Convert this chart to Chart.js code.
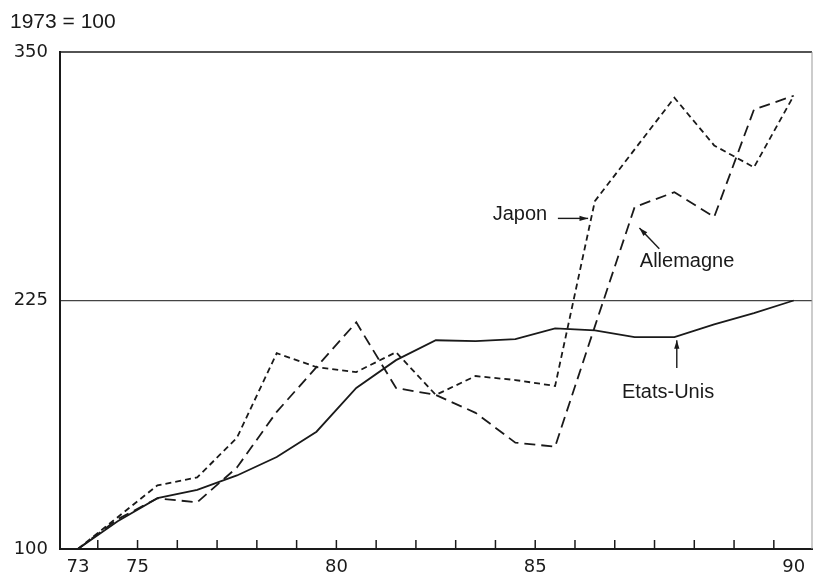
<!DOCTYPE html>
<html>
<head>
<meta charset="utf-8">
<script src="https://cdn.jsdelivr.net/npm/chart.js@4.4.0/dist/chart.umd.min.js"></script>
<style>
  html, body { margin: 0; padding: 0; background: #fff; }
</style>
</head>
<body>
<canvas id="chart" width="814" height="578"></canvas>
<script>
// one point per year, 1973 = index 0
var years = [0, 1, 2, 3, 4, 5, 6, 7, 8, 9, 10, 11, 12, 13, 14, 15, 16, 17, 18];
var japon = [100, 116, 132, 136, 156, 198.5, 191.5, 189, 199, 177.5, 187, 185, 182, 275, 301, 327, 303, 292, 328];
var allemagne = [100, 115, 125.5, 123.5, 141, 169, 191.5, 214, 181, 177.5, 168.5, 153.5, 151.5, 212, 272, 279.5, 267, 321, 328];
var etatsUnis = [100, 114, 125.6, 129.7, 137, 146.3, 159, 181, 195, 205, 204.6, 205.6, 211, 210, 206.6, 206.6, 213, 218.7, 225];

var yTicks = [100, 225, 350];
var xLabels = ['73', '75', '80', '85', '90'];
var xLabelPos = [0, 1.5, 6.5, 11.5, 18];
var xTickPos = [0.5, 1.5, 2.5, 3.5, 4.5, 5.5, 6.5, 7.5, 8.5, 9.5, 10.5, 11.5, 12.5, 13.5, 14.5, 15.5, 16.5, 17.5];

var ink = '#1a1a1a';

function points(values) {
  return values.map(function (v, i) { return { x: years[i], y: v }; });
}

// labels with their arrows, placed in data units
var notes = [
  { text: 'Japon', x: 11.8, y: 268.5, align: 'right', arrow: [12.07, 266.3, 12.83, 266.3] },
  { text: 'Allemagne', x: 14.13, y: 244.4, align: 'left', arrow: [14.62, 251, 14.12, 261.5] },
  { text: 'Etats-Unis', x: 13.68, y: 178.5, align: 'left', arrow: [15.06, 191, 15.06, 205] }
];

var extras = {
  id: 'extras',
  afterDraw: function (chart) {
    var ctx = chart.ctx;
    var xs = chart.scales.x;
    var ys = chart.scales.y;
    var a = chart.chartArea;
    ctx.save();
    // top and right frame
    ctx.strokeStyle = ink;
    ctx.lineWidth = 1.6;
    ctx.beginPath();
    ctx.moveTo(a.left, a.top);
    ctx.lineTo(a.right, a.top);
    ctx.stroke();
    ctx.strokeStyle = '#999';
    ctx.lineWidth = 1;
    ctx.beginPath();
    ctx.moveTo(a.right, a.top);
    ctx.lineTo(a.right, a.bottom);
    ctx.stroke();
    // inner tick marks on the year axis
    ctx.strokeStyle = ink;
    ctx.lineWidth = 1.5;
    xTickPos.forEach(function (p) {
      var px = xs.getPixelForValue(p);
      ctx.beginPath();
      ctx.moveTo(px, a.bottom);
      ctx.lineTo(px, a.bottom - 9);
      ctx.stroke();
    });
    // title
    ctx.fillStyle = ink;
    ctx.font = '21px "Liberation Sans", Arial, sans-serif';
    ctx.textAlign = 'left';
    ctx.textBaseline = 'alphabetic';
    ctx.fillText('1973 = 100', 10, 28);
    // notes
    ctx.font = '20px "Liberation Sans", Arial, sans-serif';
    ctx.textBaseline = 'middle';
    notes.forEach(function (n) {
      ctx.textAlign = n.align;
      ctx.fillText(n.text, xs.getPixelForValue(n.x), ys.getPixelForValue(n.y));
      var x1 = xs.getPixelForValue(n.arrow[0]), y1 = ys.getPixelForValue(n.arrow[1]);
      var x2 = xs.getPixelForValue(n.arrow[2]), y2 = ys.getPixelForValue(n.arrow[3]);
      ctx.lineWidth = 1.4;
      ctx.beginPath();
      ctx.moveTo(x1, y1);
      ctx.lineTo(x2, y2);
      ctx.stroke();
      var ang = Math.atan2(y2 - y1, x2 - x1);
      ctx.beginPath();
      ctx.moveTo(x2, y2);
      ctx.lineTo(x2 - 9 * Math.cos(ang - 0.3), y2 - 9 * Math.sin(ang - 0.3));
      ctx.lineTo(x2 - 9 * Math.cos(ang + 0.3), y2 - 9 * Math.sin(ang + 0.3));
      ctx.closePath();
      ctx.fill();
    });
    ctx.restore();
  }
};

var lineStyle = { borderColor: ink, borderWidth: 1.8, pointRadius: 0, tension: 0, fill: false };

new Chart(document.getElementById('chart'), {
  type: 'line',
  data: {
    datasets: [
      Object.assign({ label: 'Japon', data: points(japon), borderDash: [6, 4] }, lineStyle),
      Object.assign({ label: 'Allemagne', data: points(allemagne), borderDash: [11, 6] }, lineStyle),
      Object.assign({ label: 'Etats-Unis', data: points(etatsUnis) }, lineStyle)
    ]
  },
  options: {
    responsive: false,
    animation: false,
    layout: { padding: { top: 52, right: 2, left: 0, bottom: 0 } },
    plugins: { legend: { display: false }, tooltip: { enabled: false } },
    scales: {
      x: {
        type: 'linear',
        min: -0.45,
        max: 18.46,
        afterBuildTicks: function (s) {
          s.ticks = xLabelPos.map(function (p) { return { value: p }; });
        },
        afterFit: function (s) { s.height = 29; },
        ticks: {
          autoSkip: false,
          maxRotation: 0,
          padding: 0,
          color: ink,
          font: { family: '"DejaVu Sans", sans-serif', size: 18 },
          callback: function (v) {
            var i = xLabelPos.indexOf(v);
            return i < 0 ? '' : xLabels[i];
          }
        },
        grid: { display: false },
        border: { display: true, color: ink, width: 2 }
      },
      y: {
        min: 100,
        max: 350,
        afterBuildTicks: function (s) {
          s.ticks = yTicks.map(function (v) { return { value: v }; });
        },
        afterFit: function (s) { s.width = 60; },
        ticks: {
          padding: 12,
          color: ink,
          font: { family: '"DejaVu Sans", sans-serif', size: 18 }
        },
        grid: {
          drawTicks: false,
          lineWidth: 1.2,
          color: function (c) { return c.tick && c.tick.value === 225 ? '#444' : 'rgba(0,0,0,0)'; }
        },
        border: { display: true, color: ink, width: 2 }
      }
    }
  },
  plugins: [extras]
});
</script>
</body>
</html>
